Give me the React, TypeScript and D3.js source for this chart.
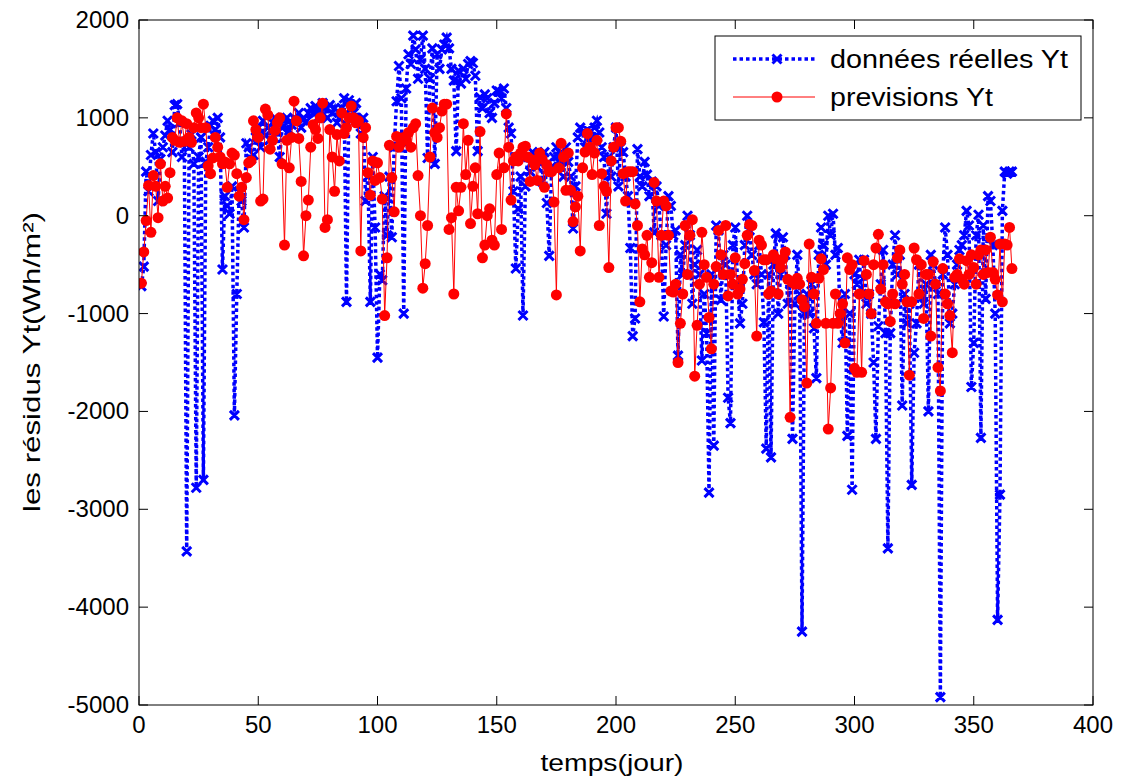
import React from "react";
import * as d3 from "d3";

const actual: number[] = [
  -720, -520, 450, 250, 620, 840, 650, 150, 580, 700,
  820, 970, 880, 650, 1130, 1140, 950, 600, 750, -3430,
  700, 830, 530, -2780, 600, 800, -2700, 550, 700, 920,
  970, 880, 1000, 800, -550, 200, 100, 20, 300, -2040,
  -800, 250, 150, -120, 740, 700, 580, 620, 800, 900,
  700, 970, 820, 900, 780, 950, 1000, 850, 600, 900,
  920, 1000, 870, 930, 1000, 970, 1050, 900, 1000, 960,
  1050, 1100, 1050, 1120, 1000, 1080, 1150, 1100, 1000, 1130,
  1050, 1100, 950, 1000, 1100, 1200, -880, 1180, 1100, 1050,
  1150, 950, 840, 1000, 150, 400, -880, 600, -120, -1450,
  -600, -660, 200, -200, 400, -220, 700, 1170, 1530, 1200,
  -1000, 1300, 1650, 1550, 1840, 1700, 1400, 1600, 1840, 1500,
  590, 1400, 1710, 530, 1650, 1500, 1700, 1750, 1820, 1710,
  1500, 1380, 660, 1480, 1350, 1500, 1400, 1550, 1580, 1560,
  1430, 660, 1210, 1100, 1240, 1200, 1050, 1000, 1150, 1280,
  1270, 1200, 1300, 1100, 900, 840, 250, -540, 70, 400,
  -1020, 300, 600, 450, 650, 560, 500, 600, 350, 650,
  130, -410, 500, 600, 700, 550, 630, 400, 700, 550,
  400, -130, 300, 800, 900, 850, 700, 880, 750, 800,
  900, 970, 850, 700, 600, 20, 600, 400, 700, 900,
  300, 700, 650, 400, 200, -330, -1230, -1050, 680, 400,
  300, 550, 420, 200, 350, -170, 300, 100, -200, -1030,
  -300, 200, 100, -200, -150, -1430, -400, -600, -300, 0,
  -200, -900, -500, -350, -600, -1480, -800, -1200, -2830, -600,
  -2350, -100, -150, -860, -400, -500, -1860, -2120, -300, -120,
  -700, -1100, -900, -300, 0, -150, -400, -600, -700, -300,
  -600, -1090, -2380, -600, -2470, -500, -180, -1000, -600, -220,
  -400, -900, -700, -2280, -900, -400, -800, -4250, -1000, -800,
  -1000, -700, -1150, -1660, -400, -120, -300, -500, 0, -200,
  20, -400, -330, -1020, -1300, -800, -2250, -1000, -2800, -600,
  -700, -450, -800, -450, -900, -800, -1000, -1500, -2280, -1130,
  -700, -350, -1200, -3400, -1200, -500, -200, -600, -400, -1940,
  -800, -1100, -900, -2750, -1400, -1100, -500, -800, -900, -700,
  -2000, -400, -500, -700, -800, -4920, -600, -120, -400, -1100,
  -1000, -700, -500, -350, -300, -200, 50, -100, -1750, -1300,
  -200, 10, -2270, -100, -850, 200, 150, -300, -1000, -4130,
  -2850, 50, 450, 430, 450, 450,
];

const forecast: number[] = [
  -690, -370, -50, 310, -170, 410, 300, -20, 530, 150,
  300, 180, 440, 800, 770, 1000, 750, 970, 760, 940,
  800, 750, 900, 1050, 1000, 900, 1140, 900, 510, 430,
  590, 800, 700, 600, 530, 550, 290, 530, 640, 620,
  430, 200, 290, -40, 390, 540, 560, 970, 880, 800,
  150, 170, 1090, 1030, 680, 770, 870, 950, 1000, 530,
  -300, 770, 490, 800, 1170, 970, 790, 350, -410, 0,
  160, 700, 930, 880, 790, 1000, 1150, -120, -40, 880,
  600, 250, 830, 560, 1050, 840, 900, 1000, 1120, 1000,
  950, 970, -360, 800, 900, 440, 210, 560, 360, 540,
  390, 170, -1020, -430, 720, 390, 40, 810, 700, 750,
  800, 780, 850, 700, 900, 940, 410, 0, -740, -490,
  -100, 600, 1100, 850, 800, 900, 1070, 1140, 1140, -140,
  -20, -800, 290, 50, 290, 940, 420, 770, -80, 300,
  490, 20, 860, -430, -300, 0, 70, -250, -300, 420,
  640, -140, 490, 1040, 700, 160, 560, 600, 560, 640,
  700, 710, 600, 350, 570, 520, 360, 640, 580, 290,
  520, 450, 450, 140, -810, 490, 740, 600, 260, 640,
  260, -60, 90, 200, -360, 490, 650, 840, 700, 420,
  640, 770, -100, 430, 300, 250, -530, 560, 700, 900,
  900, 760, 430, 150, 450, 450, 450, 120, -100, -880,
  -340, -400, -200, -630, -480, 340, 150, -630, -200, 150,
  100, -200, -770, -780, -700, -1500, -1100, -800, -100, -600,
  -200, -40, -1640, -1120, -700, -170, -500, -630, -1040, -1360,
  -700, -520, -150, -400, -600, -100, -820, -600, -700, -430,
  -800, -750, -650, -490, -200, -90, -100, -560, -1230, -250,
  -300, -450, -450, -800, -770, -400, -440, -800, -530, -440,
  -370, -650, -2060, -680, -700, -640, -700, -860, -930, -1710,
  -290, -630, -800, -1100, -640, -440, -550, -1100, -2180, -1760,
  -1100, -800, -1100, -1000, -900, -1300, -430, -550, -500, -1560,
  -1600, -800, -1600, -460, -600, -800, -1000, -500, -330, -190,
  -750, -500, -880, -900, -1080, -800, -900, -430, -350, -700,
  -600, -880, -1630, -880, -330, -450, -800, -500, -1050, -600,
  -600, -1230, -470, -700, -1550, -1790, -540, -800, -900, -1020,
  -1400, -630, -600, -440, -650, -700, -460, -600, -400, -530,
  -700, -400, -350, -600, -350, -580, -220, -580, -650, -810,
  -290, -880, -290, -300, -120, -540,
];

const xTicks: number[] = [0, 50, 100, 150, 200, 250, 300, 350, 400];
const yTicks: number[] = [-5000, -4000, -3000, -2000, -1000, 0, 1000, 2000];
const seriesNames: string[] = ["données réelles Yt", "previsions Yt"];
const xLabel = "temps(jour)";
const yLabel = "les résidus Yt(Wh/m²)";

const W = 1126;
const H = 776;
const L = 139, R = 1093, T = 20, B = 705;
const FONT = "'Liberation Sans', Arial, sans-serif";

export default function App() {
  const x = d3.scaleLinear().domain([0, 400]).range([L, R]);
  const y = d3.scaleLinear().domain([-5000, 2000]).range([B, T]);
  const line = d3
    .line<number>()
    .x((_, i) => x(i + 1))
    .y((d) => y(d));
  const tick = 9;
  const cross = (cx: number, cy: number, s: number) =>
    `M${cx - s},${cy - s}L${cx + s},${cy + s}M${cx - s},${cy + s}L${cx + s},${cy - s}`;

  return (
    <svg
      width={W}
      height={H}
      style={{ position: "absolute", left: 0, top: 0, background: "#fff" }}
      fontFamily={FONT}
    >
      <rect x={0} y={0} width={W} height={H} fill="#fff" />
      <defs>
        <clipPath id="plot">
          <rect x={L} y={T} width={R - L} height={B - T} />
        </clipPath>
      </defs>
      <g clipPath="url(#plot)">
        <path
          d={line(actual) || ""}
          fill="none"
          stroke="#0000ff"
          strokeWidth={3.5}
          strokeDasharray="3.5,3"
        />
        <path
          d={actual.map((v, i) => cross(x(i + 1), y(v), 4.5)).join("")}
          fill="none"
          stroke="#0000ff"
          strokeWidth={3}
        />
        <path d={line(forecast) || ""} fill="none" stroke="#ff0000" strokeWidth={1} />
        {forecast.map((v, i) => (
          <circle key={i} cx={x(i + 1)} cy={y(v)} r={5.5} fill="#ff0000" />
        ))}
      </g>
      <rect x={L} y={T} width={R - L} height={B - T} fill="none" stroke="#000" strokeWidth={1} />
      {xTicks.map((t) => (
        <g key={"x" + t}>
          <line x1={x(t)} x2={x(t)} y1={B} y2={B - tick} stroke="#000" />
          <line x1={x(t)} x2={x(t)} y1={T} y2={T + tick} stroke="#000" />
          <text x={x(t)} y={B + 28} textAnchor="middle" fontSize={24} fill="#000">
            {t}
          </text>
        </g>
      ))}
      {yTicks.map((t) => (
        <g key={"y" + t}>
          <line x1={L} x2={L + tick} y1={y(t)} y2={y(t)} stroke="#000" />
          <line x1={R} x2={R - tick} y1={y(t)} y2={y(t)} stroke="#000" />
          <text x={L - 10} y={y(t) + 8} textAnchor="end" fontSize={24} fill="#000">
            {t}
          </text>
        </g>
      ))}
      <text
        x={612}
        y={771}
        textAnchor="middle"
        fontSize={24}
        fill="#000"
        textLength={143}
        lengthAdjust="spacingAndGlyphs"
      >
        {xLabel}
      </text>
      <text
        transform={`translate(40,362) rotate(-90)`}
        textAnchor="middle"
        fontSize={24}
        fill="#000"
        textLength={300}
        lengthAdjust="spacingAndGlyphs"
      >
        {yLabel}
      </text>
      <g>
        <rect x={715} y={36} width={366} height={84} fill="#fff" stroke="#000" strokeWidth={1} />
        <line x1={733} x2={815} y1={59} y2={59} stroke="#0000ff" strokeWidth={3.5} strokeDasharray="3.5,3" />
        <path d={cross(777, 59, 4.5)} stroke="#0000ff" strokeWidth={3} fill="none" />
        <text x={830} y={68} fontSize={25} fill="#000" textLength={238} lengthAdjust="spacingAndGlyphs">
          {seriesNames[0]}
        </text>
        <line x1={733} x2={815} y1={97} y2={97} stroke="#ff0000" strokeWidth={1} />
        <circle cx={777} cy={97} r={5.5} fill="#ff0000" />
        <text x={830} y={106} fontSize={25} fill="#000" textLength={163} lengthAdjust="spacingAndGlyphs">
          {seriesNames[1]}
        </text>
      </g>
    </svg>
  );
}
